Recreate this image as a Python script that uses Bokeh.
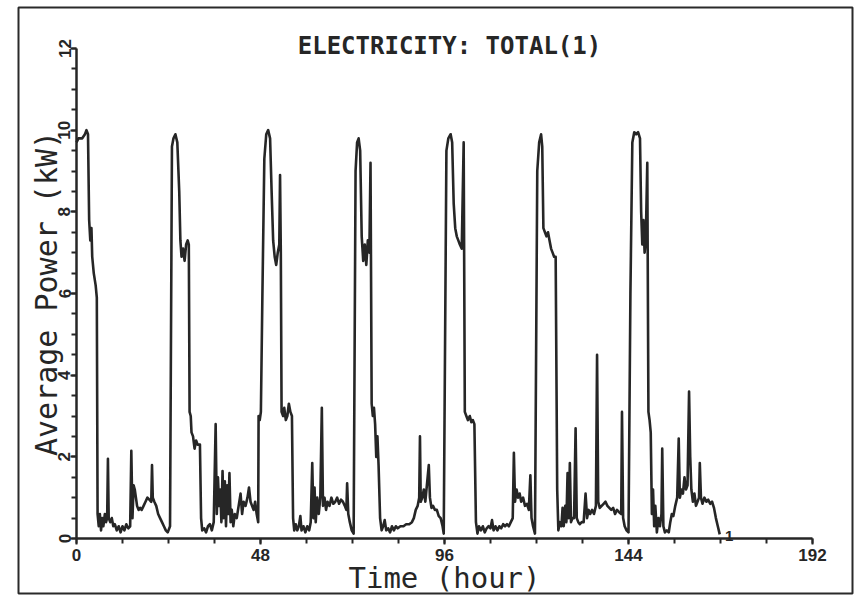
from bokeh.plotting import figure
from bokeh.models import Range1d, SingleIntervalTicker, Label
from bokeh.embed import file_html
from bokeh.resources import INLINE

# ---- data: electricity total (1), average power in kW vs time in hours ----
day0_h = [0.0, 0.5, 1.5, 2.2, 2.6, 3.0, 3.3, 3.6, 3.9, 4.1, 4.5, 5.0, 5.3, 5.5, 5.8, 6.1, 6.4, 6.7, 7.0,
          7.4, 7.7, 8.0, 8.2, 8.4, 8.8, 9.2, 9.6, 10.0, 10.5, 11.0, 11.5, 12.0, 12.5, 13.0, 13.5, 14.0,
          14.3, 14.6, 14.9, 15.2, 15.5, 15.8, 16.2, 16.6, 17.0, 17.5, 18.0, 18.5, 19.0, 19.5, 19.7, 19.9,
          20.3, 20.8, 21.3, 21.8, 22.3, 22.8, 23.3, 23.8]
day0_kw = [9.7, 9.8, 9.8, 9.9, 10.0, 9.9, 7.8, 7.3, 7.6, 6.9, 6.5, 6.2, 5.9, 0.6, 0.3, 0.6, 0.2, 0.5, 0.3,
           0.6, 0.4, 0.5, 1.95, 0.5, 0.4, 0.5, 0.3, 0.35, 0.2, 0.3, 0.15, 0.3, 0.2, 0.35, 0.25, 0.3,
           2.15, 0.5, 1.3, 1.2, 1.0, 0.8, 0.7, 0.75, 0.7, 0.8, 0.9, 1.0, 0.95, 0.9, 1.8, 1.0,
           0.9, 0.8, 0.6, 0.5, 0.4, 0.3, 0.2, 0.15]

day1_h = [24.0, 24.4, 24.9, 25.3, 25.8, 26.3, 26.8, 27.1, 27.4, 27.8, 28.2, 28.6, 29.0, 29.3, 29.5, 29.8,
          30.0, 30.4, 30.8, 31.2, 31.6, 32.2, 32.5, 32.8, 33.3, 33.8, 34.3, 34.8, 35.3, 35.8, 36.3, 36.6,
          36.9, 37.2, 37.5, 37.8, 38.1, 38.4, 38.7, 39.0, 39.3, 39.6, 39.9, 40.2, 40.5, 40.9, 41.3, 41.8,
          42.3, 42.8, 43.2, 43.6, 44.1, 44.6, 45.0, 45.4, 45.8, 46.2, 46.6, 47.0, 47.4, 47.5, 47.8]
day1_kw = [0.2, 0.3, 9.6, 9.8, 9.9, 9.7, 8.5, 7.3, 6.9, 7.1, 6.8, 7.2, 7.3, 7.2, 3.1, 3.0,
           2.6, 2.5, 2.2, 2.4, 2.3, 2.3, 0.5, 0.2, 0.25, 0.15, 0.3, 0.35, 0.2, 0.4, 2.8, 0.6,
           1.5, 0.8, 1.2, 0.4, 1.65, 0.5, 1.4, 0.3, 1.3, 0.6, 1.6, 0.4, 0.7, 0.3, 0.6, 0.5,
           0.8, 1.1, 0.6, 0.9, 0.8, 1.0, 1.25, 0.9, 0.8, 0.7, 0.9, 0.6, 0.4, 3.0, 2.9]

day2_h = [48.1, 48.5, 49.0, 49.5, 50.0, 50.5, 50.9, 51.3, 51.7, 52.1, 52.5, 52.9, 53.1, 53.3, 53.5, 53.9,
          54.2, 54.6, 55.0, 55.4, 55.8, 56.2, 56.5, 56.8, 57.2, 57.6, 58.0, 58.4, 58.7, 59.2, 59.7, 60.2,
          60.7, 61.1, 61.5, 61.8, 62.1, 62.4, 62.8, 63.2, 63.6, 64.0, 64.3, 64.7, 65.1, 65.5, 66.0, 66.5,
          67.0, 67.5, 68.0, 68.5, 69.0, 69.5, 70.0, 70.4, 70.6, 70.9, 71.3, 71.8, 72.3]
day2_kw = [3.1, 6.0, 9.3, 9.9, 10.0, 9.8, 8.5, 7.3, 6.9, 6.7, 7.0, 7.2, 8.9, 7.0, 3.1, 3.0,
           3.2, 2.9, 3.0, 3.3, 3.1, 3.0, 0.5, 0.2, 0.35, 0.2, 0.3, 0.55, 0.2, 0.3, 0.15, 0.3,
           0.2, 0.4, 1.85, 0.5, 1.25, 0.4, 1.0, 0.6, 1.0, 3.2, 0.8, 1.0, 0.7, 0.9, 0.8, 1.0,
           0.85, 0.9, 1.0, 0.85, 0.95, 0.9, 0.8, 0.7, 1.35, 0.6, 0.4, 0.2, 0.12]

day3_h = [72.8, 73.2, 73.6, 74.0, 74.4, 74.8, 75.2, 75.6, 76.0, 76.4, 76.7, 77.0, 77.3, 77.6, 77.9, 78.2,
          78.5, 78.8, 79.2, 79.6, 80.0, 80.4, 80.8, 81.3, 81.8, 82.3, 82.8, 83.3, 83.8, 84.5, 85.3, 86.0,
          86.8, 87.5, 88.0, 88.5, 89.0, 89.4, 89.6, 89.8, 90.2, 90.6, 91.0, 91.4, 91.9, 92.2, 92.6, 93.0,
          93.5, 94.0, 94.5, 95.0, 95.5, 95.8]
day3_kw = [9.0, 9.7, 9.8, 9.5, 7.4, 6.8, 7.2, 6.7, 7.3, 7.0, 9.2, 3.3, 3.0, 3.2, 2.8, 2.0,
           2.5, 1.8, 0.5, 0.2, 0.3, 0.45, 0.2, 0.25, 0.15, 0.3, 0.2, 0.3, 0.25, 0.3, 0.3, 0.35,
           0.35, 0.4, 0.5, 0.7, 0.8, 1.0, 2.5, 0.9, 1.0, 1.2, 0.9, 1.3, 1.8, 1.0, 0.75, 0.8,
           0.7, 0.7, 0.55, 0.5, 0.3, 0.12]

day4_h = [96.5, 97.0, 97.6, 98.0, 98.4, 98.8, 99.2, 99.6, 100.0, 100.5, 101.0, 101.3, 101.7, 102.1, 102.6,
          103.0, 103.4, 103.8, 104.2, 104.6, 105.0, 105.5, 106.0, 106.5, 107.0, 107.5, 108.0, 108.4, 108.8,
          109.3, 109.8, 110.3, 110.8, 111.3, 111.8, 112.3, 112.8, 113.3, 113.8, 114.1, 114.4, 114.8, 115.2,
          115.6, 116.0, 116.5, 117.0, 117.5, 118.0, 118.4, 118.7, 119.1, 119.6]
day4_kw = [9.5, 9.8, 9.9, 9.7, 8.2, 7.6, 7.4, 7.3, 7.2, 7.1, 9.7, 3.1, 3.0, 2.9, 3.0,
           2.85, 2.9, 2.8, 0.4, 0.12, 0.3, 0.2, 0.3, 0.15, 0.25, 0.3, 0.25, 0.45, 0.2,
           0.3, 0.2, 0.3, 0.25, 0.35, 0.3, 0.35, 0.3, 0.4, 0.5, 2.1, 0.9, 1.2, 1.0,
           1.1, 0.9, 1.0, 0.8, 0.85, 0.7, 1.55, 0.5, 0.3, 0.12]

day5_h = [120.2, 120.7, 121.2, 121.5, 121.8, 122.2, 122.6, 123.0, 123.4, 123.8, 124.2, 124.6, 125.0, 125.4,
          125.7, 126.1, 126.5, 126.8, 127.1, 127.5, 127.8, 128.1, 128.4, 128.7, 129.0, 129.4, 129.8, 130.2,
          130.5, 130.9, 131.3, 131.8, 132.3, 132.8, 133.2, 133.6, 134.0, 134.5, 135.0, 135.5, 135.8, 136.1,
          136.5, 137.0, 137.5, 138.0, 138.5, 139.0, 139.5, 140.0, 140.5, 141.0, 141.5, 142.1, 142.3, 142.6,
          143.0, 143.5, 144.0]
day5_kw = [9.0, 9.7, 9.9, 9.6, 7.6, 7.5, 7.4, 7.5, 7.3, 7.1, 7.0, 6.9, 6.9, 1.2,
           0.2, 0.4, 0.3, 0.75, 0.3, 0.8, 0.4, 1.6, 0.5, 1.85, 0.4, 0.5, 0.5, 2.7,
           0.5, 0.4, 0.35, 0.4, 0.4, 1.1, 0.5, 0.7, 0.6, 0.7, 0.6, 0.8, 4.5, 0.9,
           0.75, 0.8, 0.85, 0.9, 0.8, 0.75, 0.7, 0.75, 0.6, 0.7, 0.65, 0.6, 3.1, 0.5,
           0.3, 0.2, 0.15]

day6_h = [144.5, 145.0, 145.5, 146.0, 146.5, 147.0, 147.3, 147.6, 147.9, 148.2, 148.5, 148.9, 149.2, 149.5,
          149.8, 150.1, 150.4, 150.7, 151.0, 151.4, 151.8, 152.2, 152.6, 152.8, 153.1, 153.5, 154.0, 154.5,
          154.9, 155.3, 155.7, 156.2, 156.7, 157.1, 157.4, 157.8, 158.2, 158.6, 159.0, 159.4, 159.8, 160.1,
          160.4, 160.8, 161.2, 161.6, 162.0, 162.4, 162.6, 162.9, 163.3, 163.8, 164.3, 164.8, 165.3, 165.8,
          166.3, 166.8, 167.3, 167.8]
day6_kw = [6.0, 9.7, 9.95, 9.9, 9.95, 9.8, 8.0, 7.2, 7.8, 7.0, 7.3, 9.2, 3.1, 2.9,
           2.6, 0.6, 1.2, 0.3, 0.8, 0.15, 0.5, 0.3, 0.6, 2.2, 0.3, 0.15, 0.2, 0.15,
           0.4, 0.6, 0.55, 0.8, 1.0, 2.45, 1.0, 1.2, 1.1, 1.5, 1.2, 1.3, 3.6, 2.0,
           1.2, 0.9, 1.1, 0.8, 0.9, 1.0, 1.85, 1.0, 0.85, 1.0, 0.9, 0.95, 0.85, 0.9,
           0.75, 0.5, 0.3, 0.1]

x_ticks_major = 48
y_ticks_major = 2
title_text = "ELECTRICITY: TOTAL(1)"
curve_label = "1"

hours = day0_h + day1_h + day2_h + day3_h + day4_h + day5_h + day6_h
power = day0_kw + day1_kw + day2_kw + day3_kw + day4_kw + day5_kw + day6_kw

# ---- layout (canvas pixels) ----
W, H = 856, 596
px_x0, px_x192 = 76.0, 812.0
px_y0, px_y12 = 538.0, 48.0
fr_left, fr_right, fr_top, fr_bot = 18.0, 852.0, 7.0, 593.0
sx = (px_x192 - px_x0) / 192.0
sy = (px_y0 - px_y12) / 12.0

p = figure(width=W, height=H, output_backend="svg", toolbar_location=None,
           x_range=Range1d((fr_left - px_x0) / sx, (fr_right - px_x0) / sx),
           y_range=Range1d((px_y0 - fr_bot) / sy, (px_y0 - fr_top) / sy),
           min_border_left=int(fr_left), min_border_right=int(W - fr_right),
           min_border_top=int(fr_top), min_border_bottom=int(H - fr_bot))
p.background_fill_color = "white"
p.border_fill_color = "white"
p.outline_line_color = "#2a2a2a"
p.outline_line_width = 2
p.xgrid.visible = False
p.ygrid.visible = False

ink = "#262626"
mono = "DejaVu Sans Mono"
tickfont = "Liberation Sans"

xa = p.xaxis[0]
xa.fixed_location = 0
xa.bounds = (0, 192)
xa.ticker = SingleIntervalTicker(interval=x_ticks_major, num_minor_ticks=4)
xa.axis_label = "Time (hour)"
ya = p.yaxis[0]
ya.fixed_location = 0
ya.bounds = (0, 12)
ya.ticker = SingleIntervalTicker(interval=y_ticks_major, num_minor_ticks=4)
ya.axis_label = "Average Power (kW)"
ya.major_label_orientation = "vertical"

for ax in (xa, ya):
    ax.axis_line_color = ink
    ax.axis_line_width = 2.5
    ax.major_tick_line_color = ink
    ax.minor_tick_line_color = ink
    ax.major_tick_line_width = 2
    ax.minor_tick_line_width = 2
    ax.major_tick_in = 0
    ax.minor_tick_in = 0
    ax.major_tick_out = 6
    ax.minor_tick_out = 5
    ax.major_label_text_font = tickfont
    ax.major_label_text_font_style = "bold"
    ax.major_label_text_font_size = "17px"
    ax.major_label_text_color = ink
    ax.axis_label_text_font = mono
    ax.axis_label_text_font_style = "normal"
    ax.axis_label_text_font_size = "30px"
    ax.axis_label_text_color = ink

xa.axis_label_text_font_size = "29px"
xa.major_label_standoff = 4
xa.axis_label_standoff = -3
ya.major_label_standoff = 0
ya.axis_label_standoff = -8

p.line(hours, power, line_color=ink, line_width=2.6, line_join="round")

p.add_layout(Label(x=97.3, y=(px_y0 - 45) / sy, text=title_text, text_align="center",
                   text_baseline="alphabetic", text_font=mono, text_font_style="bold",
                   text_font_size="24px", text_color=ink))
p.add_layout(Label(x=hours[-1] + 1.4, y=0.05, text=curve_label, text_align="left",
                   text_baseline="alphabetic", text_font=tickfont, text_font_style="bold",
                   text_font_size="15px", text_color=ink))

open("out.html", "w").write(file_html(p, INLINE))
